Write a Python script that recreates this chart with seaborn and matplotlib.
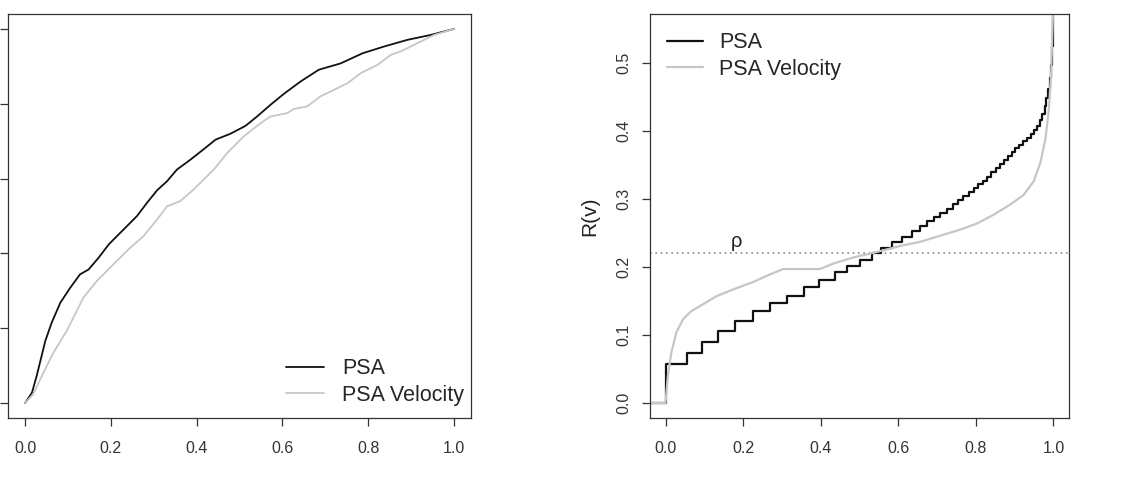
import matplotlib
matplotlib.use("Agg")
import matplotlib.pyplot as plt
import seaborn as sns

# --- DATA ---

# left panel: ROC-type curves
roc_psa_x = [0.0, 0.016, 0.027, 0.047, 0.062, 0.082, 0.105, 0.128, 0.148, 0.171, 0.195,
             0.214, 0.241, 0.261, 0.284, 0.308, 0.331, 0.354, 0.386, 0.417, 0.444, 0.479,
             0.514, 0.541, 0.572, 0.604, 0.643, 0.685, 0.736, 0.787, 0.837, 0.892, 0.946, 1.0]
roc_psa_y = [0.0, 0.028, 0.073, 0.166, 0.215, 0.268, 0.308, 0.344, 0.357, 0.388, 0.424,
             0.446, 0.477, 0.500, 0.535, 0.569, 0.593, 0.624, 0.651, 0.679, 0.704, 0.720,
             0.741, 0.766, 0.797, 0.827, 0.860, 0.891, 0.908, 0.935, 0.953, 0.971, 0.984, 1.0]

roc_vel_x = [0.0, 0.019, 0.043, 0.066, 0.097, 0.136, 0.167, 0.206, 0.245, 0.276, 0.308,
             0.331, 0.362, 0.393, 0.440, 0.471, 0.510, 0.549, 0.572, 0.611, 0.627, 0.658,
             0.689, 0.720, 0.752, 0.783, 0.822, 0.853, 0.876, 0.915, 0.954, 1.0]
roc_vel_y = [0.0, 0.024, 0.082, 0.135, 0.193, 0.282, 0.326, 0.371, 0.415, 0.446, 0.491,
             0.526, 0.540, 0.571, 0.624, 0.668, 0.713, 0.748, 0.766, 0.775, 0.786, 0.793,
             0.820, 0.837, 0.855, 0.882, 0.904, 0.931, 0.940, 0.962, 0.984, 1.0]

# right panel: R(v) curves
rv_psa_x = [-0.05, 0.0, 0.056, 0.094, 0.135, 0.180, 0.226, 0.270, 0.312, 0.357, 0.396,
            0.437, 0.469, 0.500, 0.531, 0.555, 0.583, 0.609, 0.635, 0.656, 0.674, 0.691,
            0.708, 0.725, 0.740, 0.755, 0.768, 0.781, 0.794, 0.806, 0.818, 0.829, 0.840,
            0.851, 0.862, 0.872, 0.882, 0.892, 0.902, 0.912, 0.922, 0.932, 0.941, 0.950,
            0.958, 0.965, 0.971, 0.977, 0.982, 0.986, 0.990, 0.993, 0.996, 0.998, 1.0]
rv_psa_y = [0.0, 0.057, 0.074, 0.090, 0.106, 0.121, 0.135, 0.147, 0.158, 0.170, 0.181,
            0.192, 0.201, 0.211, 0.220, 0.228, 0.237, 0.244, 0.253, 0.260, 0.267, 0.274,
            0.280, 0.286, 0.292, 0.298, 0.304, 0.310, 0.316, 0.322, 0.327, 0.333, 0.339,
            0.345, 0.351, 0.357, 0.363, 0.369, 0.375, 0.380, 0.385, 0.390, 0.396, 0.402,
            0.408, 0.416, 0.425, 0.436, 0.448, 0.462, 0.478, 0.497, 0.525, 0.560, 0.620]

rv_vel_x = [-0.05, 0.0, 0.006, 0.015, 0.028, 0.045, 0.066, 0.096, 0.131, 0.174, 0.226,
            0.269, 0.303, 0.329, 0.398, 0.432, 0.484, 0.544, 0.605, 0.656, 0.708, 0.760,
            0.803, 0.846, 0.889, 0.923, 0.949, 0.966, 0.979, 0.988, 0.994, 0.999]
rv_vel_y = [0.0, 0.0, 0.040, 0.074, 0.104, 0.123, 0.135, 0.145, 0.157, 0.167, 0.178,
            0.189, 0.197, 0.197, 0.197, 0.205, 0.214, 0.222, 0.231, 0.237, 0.246, 0.255,
            0.264, 0.277, 0.292, 0.306, 0.326, 0.353, 0.387, 0.431, 0.485, 0.580]

rho = 0.22
series_names = ["PSA", "PSA Velocity"]
x_ticks = [0.0, 0.2, 0.4, 0.6, 0.8, 1.0]
roc_y_ticks = [0.0, 0.2, 0.4, 0.6, 0.8, 1.0]
rv_y_ticks = [0.0, 0.1, 0.2, 0.3, 0.4, 0.5]

# --- STYLE ---
sns.set_style("white")
plt.rcParams["font.family"] = ["Liberation Sans", "DejaVu Sans"]

BLACK = "#111111"
GREY = "#c6c6c6"
FRAME = "#333333"

W, H = 1137, 480
fig = plt.figure(figsize=(W / 100, H / 100), dpi=100)


def px_axes(left, top, right, bottom):
    return fig.add_axes([left / W, 1 - bottom / H, (right - left) / W, (bottom - top) / H])


ax1 = px_axes(8, 14, 471, 418)
ax2 = px_axes(650, 14, 1069, 418)

# left panel
sns.lineplot(x=roc_psa_x, y=roc_psa_y, ax=ax1, color=BLACK, lw=1.3,
             sort=False, estimator=None, label=series_names[0])
sns.lineplot(x=roc_vel_x, y=roc_vel_y, ax=ax1, color=GREY, lw=1.3,
             sort=False, estimator=None, label=series_names[1])
ax1.set_xlim(-0.04, 1.04)
ax1.set_ylim(-0.04, 1.04)
ax1.set_yticks(roc_y_ticks)
ax1.tick_params(axis="y", labelleft=False)
ax1.legend(loc="lower right", bbox_to_anchor=(0.985, 0.03), frameon=False,
           fontsize=15.5, handlelength=1.8, handletextpad=0.82,
           labelspacing=0.26, borderpad=0, borderaxespad=0)

# right panel
ax2.axhline(rho, color="#8a8a8a", lw=1.2, ls=(0, (1, 2.2)))
sns.lineplot(x=rv_psa_x, y=rv_psa_y, ax=ax2, color=BLACK, lw=1.6,
             sort=False, estimator=None, drawstyle="steps-post", label=series_names[0])
sns.lineplot(x=rv_vel_x, y=rv_vel_y, ax=ax2, color=GREY, lw=1.6,
             sort=False, estimator=None, label=series_names[1])
ax2.text(0.183, 0.238, "ρ", fontsize=14.5, color="#222222", ha="center", va="center")
ax2.set_xlim(-0.04, 1.04)
ax2.set_ylim(-0.022, 0.572)
ax2.set_yticks(rv_y_ticks)
ax2.set_yticklabels([f"{v:.1f}" for v in rv_y_ticks], rotation=90, va="center")
ax2.set_ylabel("R(v)", fontsize=15, color="#222222", labelpad=12)
ax2.legend(loc="upper left", bbox_to_anchor=(0.04, 0.955), frameon=False,
           fontsize=15.5, handlelength=1.67, handletextpad=0.75,
           labelspacing=0.26, borderpad=0, borderaxespad=0)

for ax in (ax1, ax2):
    ax.set_xticks(x_ticks)
    ax.set_xticklabels([f"{v:.1f}" for v in x_ticks])
    ax.tick_params(axis="both", direction="out", length=5.5, width=0.9,
                   color=FRAME, labelcolor="#333333", labelsize=11.5, pad=8,
                   bottom=True, left=True)
    ax.tick_params(axis="x", pad=11)
    for s in ax.spines.values():
        s.set_color(FRAME)
        s.set_linewidth(0.9)
    ax.set_xlabel("")

fig.savefig("out.png", dpi=100)
